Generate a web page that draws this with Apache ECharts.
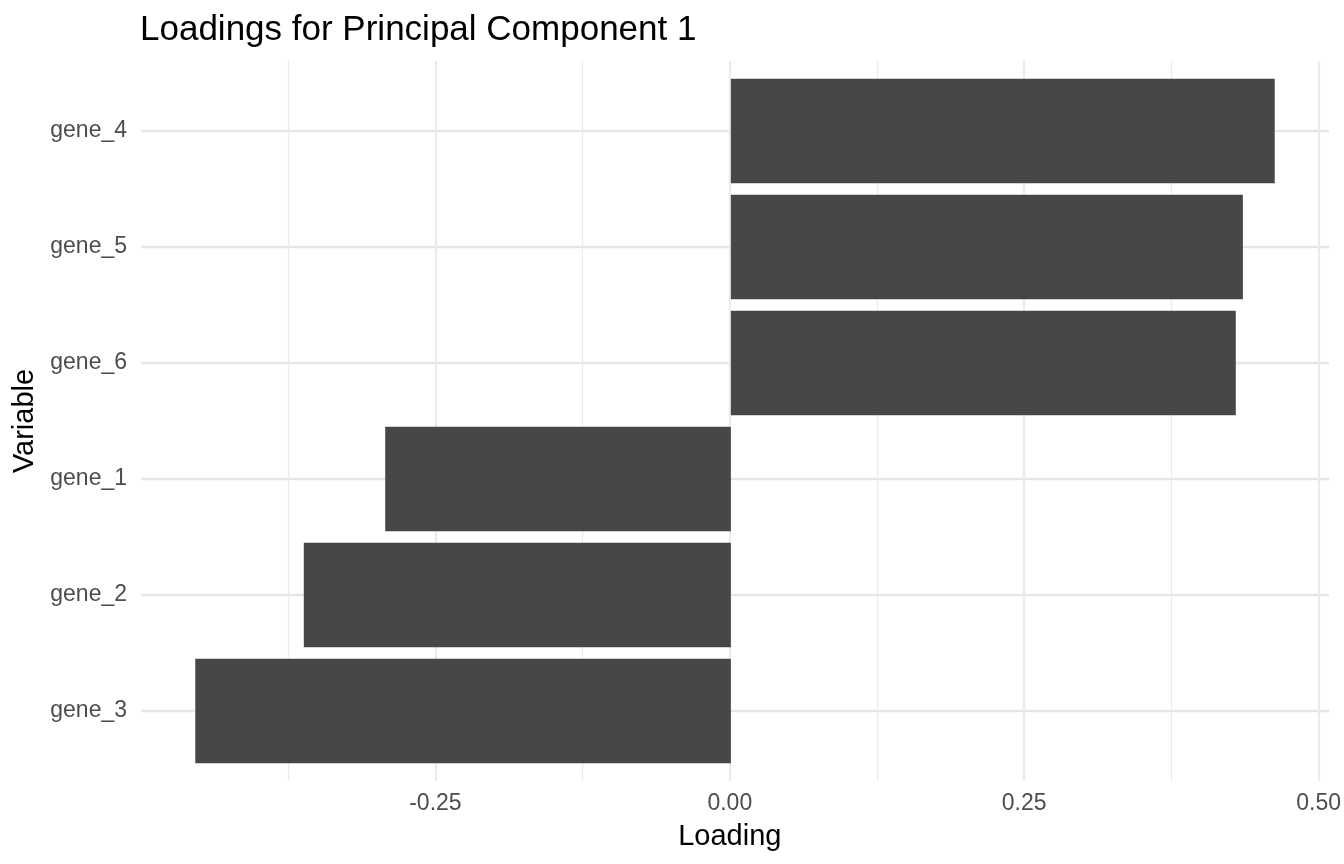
<!DOCTYPE html>
<html>
<head>
<meta charset="utf-8">
<title>Loadings for Principal Component 1</title>
<script src="https://cdn.jsdelivr.net/npm/echarts@6/dist/echarts.min.js"></script>
<style>
    html, body { margin: 0; padding: 0; background: #fff; }
    #chart { width: 1344px; height: 864px; }
</style>
</head>
<body>
<div id="chart"></div>
<script>
// variables, bottom to top (sorted by loading)
var genes = ['gene_3', 'gene_2', 'gene_1', 'gene_6', 'gene_5', 'gene_4'];
var loadings = [-0.454, -0.362, -0.293, 0.428, 0.434, 0.461];
var xTicks = [-0.25, 0, 0.25, 0.5];

var FONT = '"Liberation Sans", Arial, Helvetica, sans-serif';
var GRID_COLOR = '#ebebeb';

var chart = echarts.init(document.getElementById('chart'));

chart.setOption({
    backgroundColor: '#fff',
    animation: false,
    title: {
        text: 'Loadings for Principal Component 1',
        left: 140,
        top: 13,
        padding: 0,
        textStyle: {fontFamily: FONT, fontSize: 35, fontWeight: 'normal', color: '#000'}
    },
    grid: [
        // bars + horizontal grid lines
        {left: 141, right: 15, top: 73, bottom: 95},
        // full panel: vertical grid lines and the x labels
        {left: 141, right: 23, top: 61, bottom: 83}
    ],
    xAxis: [{
        gridIndex: 0,
        type: 'value',
        min: -0.5,
        max: 0.507,
        show: false
    }, {
        gridIndex: 1,
        type: 'value',
        min: -0.5,
        max: 0.5,
        interval: 0.25,
        name: 'Loading',
        nameLocation: 'middle',
        nameGap: 41,
        nameTextStyle: {fontFamily: FONT, fontSize: 29, color: '#000'},
        axisLine: {show: false},
        axisTick: {show: false},
        axisLabel: {
            showMinLabel: false,
            margin: 11,
            fontFamily: FONT,
            fontSize: 23,
            color: '#4d4d4d',
            formatter: function(v) {
                return xTicks.indexOf(v) >= 0 ? v.toFixed(2) : '';
            }
        },
        splitLine: {show: true, showMinLine: false, lineStyle: {color: GRID_COLOR, width: 2.2}},
        minorTick: {show: false, splitNumber: 2},
        minorSplitLine: {show: true, lineStyle: {color: GRID_COLOR, width: 1.2}}
    }],
    yAxis: [{
        gridIndex: 0,
        type: 'category',
        data: genes,
        name: 'Variable',
        nameLocation: 'middle',
        nameRotate: 90,
        nameGap: 100,
        nameTextStyle: {fontFamily: FONT, fontSize: 29, color: '#000'},
        axisLine: {show: false},
        axisTick: {show: false},
        axisLabel: {margin: 14, fontFamily: FONT, fontSize: 23, color: '#4d4d4d'},
        splitLine: {show: true, alignWithLabel: true, lineStyle: {color: '#e6e6e6', width: 2.4}}
    }, {
        gridIndex: 1,
        type: 'value',
        show: false
    }],
    series: [{
        type: 'bar',
        xAxisIndex: 0,
        yAxisIndex: 0,
        data: loadings,
        barWidth: '90%',
        itemStyle: {color: '#474747'}
    }]
});
</script>
</body>
</html>
